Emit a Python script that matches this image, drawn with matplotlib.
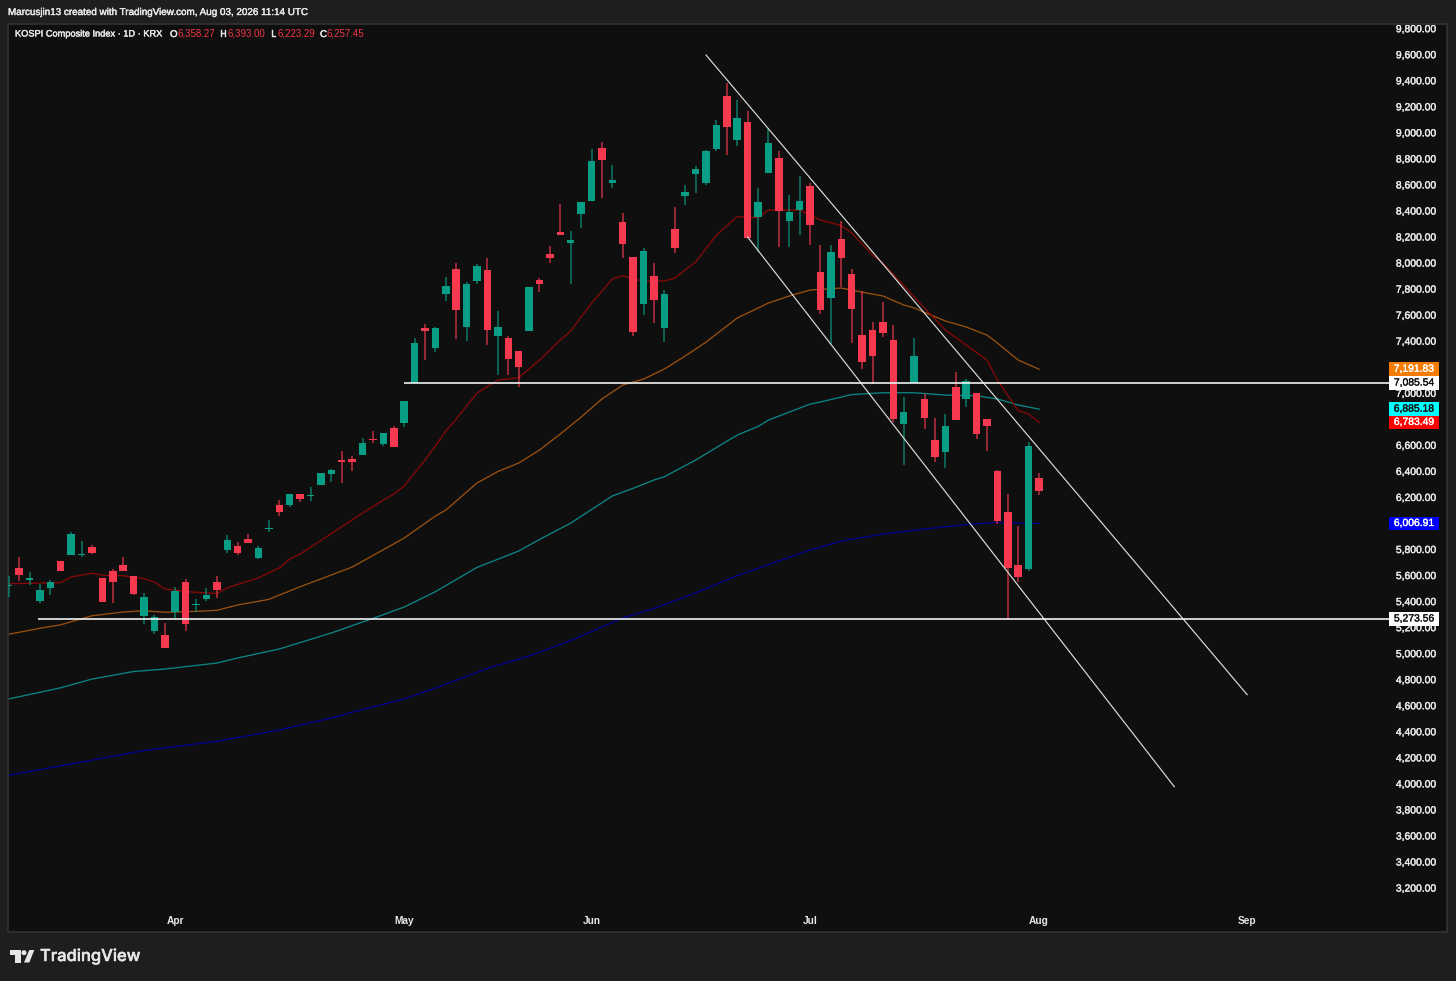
import matplotlib
matplotlib.use("Agg")
import matplotlib.pyplot as plt
import matplotlib.patheffects as pe
from matplotlib.patches import Polygon, Circle, Rectangle
from matplotlib.transforms import ScaledTranslation

# ---------- data ----------
opens = [5527,5665,5570,5412,5514,5719,5765,5765,5824,5588,5644,5688,5603,5298,5183,5152,5329,5557,5383,5424,
         5555,5805,5834,5885,5742,5962,6149,6149,6231,6218,6302,6389,6497,6502,6535,6653,6619,6740,6781,7088,
         7506,7357,7771,7959,7513,7871,7953,7444,7431,7329,7487,7877,8074,8245,8161,8383,8483,8888,8622,8324,
         8053,7695,7905,7506,8268,8522,8691,8622,8880,9290,8952,9090,8358,8698,8816,8330,8414,8598,7936,7738,
         8191,7923,7454,7493,7554,7416,6768,7083,6963,6648,6556,7057,6963,7009,6811,6410,6095,5688,5657,6358.27]
highs = [5604,5752,5632,5544,5573,5719,5939,5872,5841,5588,5655,5747,5603,5470,5304,5240,5516,5583,5424,5513,
         5603,5920,5864,5924,5831,6031,6187,6235,6231,6285,6394,6427,6566,6525,6661,6717,6704,6755,6945,7431,
         7539,7518,7902,8005,7861,7999,8048,7638,7446,7329,7823,7890,8138,8460,8255,8476,8883,8936,8760,8389,
         8053,8122,8005,7802,8439,8608,8754,8875,9105,9387,9259,9174,8585,9039,8867,8527,8675,8619,8143,8143,
         8327,7959,7794,7552,7708,7529,6980,7429,7001,6817,6845,7170,7116,7009,6811,6420,6233,5987,6632,6393.00]
lows = [5440,5565,5532,5398,5455,5639,5765,5747,5772,5406,5398,5639,5455,5232,5160,5050,5278,5179,5329,5411,
        5432,5778,5767,5857,5736,5944,6066,6131,6169,6182,6302,6328,6315,6410,6533,6627,6602,6594,6750,7088,
        7262,7326,7718,7423,7406,7846,7377,7147,7147,7057,7487,7784,8009,8222,7846,8276,8483,8506,8585,8043,
        7449,7605,7544,7398,8086,8453,8545,8608,8870,8837,8906,8201,8094,8698,8130,8130,8224,8148,7619,7389,
        7821,7395,7191,7076,7439,6788,6454,7083,6735,6477,6433,6799,6901,6656,6566,6000,5271,5557,5639,6223.29]
closes = [5535,5609,5588,5494,5557,5639,5928,5772,5782,5406,5557,5644,5463,5442,5286,5052,5486,5237,5391,5455,
          5496,5880,5778,5859,5816,5972,6095,6231,6195,6225,6394,6420,6481,6479,6623,6648,6699,6596,6945,7393,
          7487,7508,7828,7646,7846,7984,7495,7518,7272,7208,7823,7848,8048,8222,8186,8476,8790,8798,8642,8155,
          7479,8099,7725,7771,8122,8552,8729,8867,9069,9052,9121,8201,8476,8929,8406,8399,8483,8299,7646,8092,
          8048,7656,7247,7293,7472,6807,6863,7293,6817,6515,6755,6799,7101,6694,6755,6026,5665,5596,6602,6257.45]

ma_red_x = [0,5,6,8,9,11,13,14,15,16,17,20,21,24,26,27,28,34,36,37,38,40,41,42,43,45,47,49,51,53,54,56,58,59,60,61,63,64,66,68,70,71,72,73,76,78,80,81,83,84,87,90,92,94,95,97,98,99]
ma_red = [5544,5553,5596,5626,5609,5606,5583,5557,5503,5496,5484,5469,5513,5590,5665,5734,5772,6087,6187,6233,6295,6494,6602,6717,6809,7009,7109,7126,7262,7416,7485,7700,7884,7910,7884,7869,7869,7892,8015,8222,8363,8360,8355,8414,8414,8337,8295,8238,8069,8007,7746,7493,7377,7262,7109,6873,6848,6783.49]

ma_orange_x = [0,3,5,8,11,13,15,18,20,22,25,26,28,33,38,41,42,45,47,49,51,53,55,57,59,61,63,65,67,70,71,73,75,77,80,82,84,86,87,90,92,94,95,97,99]
ma_orange = [5156,5202,5229,5298,5327,5337,5325,5332,5340,5381,5424,5457,5521,5672,5895,6064,6110,6318,6406,6471,6571,6694,6824,6963,7070,7116,7193,7293,7400,7585,7623,7700,7754,7800,7815,7784,7754,7685,7662,7562,7516,7454,7393,7262,7191.83]

ma_teal_x = [0,5,8,12,15,20,22,26,31,35,38,41,45,49,51,54,58,60,62,63,66,70,72,73,77,78,81,84,87,90,93,95,97,99]
ma_teal = [4659,4745,4812,4870,4889,4935,4974,5043,5166,5278,5365,5483,5670,5795,5884,6010,6218,6277,6341,6366,6494,6686,6752,6801,6924,6940,6997,7011,7011,6993,6988,6963,6917,6885.18]

ma_blue_x = [0,6,13,20,26,31,34,38,41,46,50,54,59,62,66,70,77,80,84,88,92,95,99]
ma_blue = [4073,4160,4263,4334,4421,4513,4578,4659,4743,4894,4989,5108,5281,5354,5473,5607,5803,5872,5926,5964,5999,6016,6006.91]

channel_upper_x = [67,119]
channel_upper = [9605,4692]
channel_lower_x = [71,112]
channel_lower = [8207,3985]

support_level = 5273.56
resistance_level = 7085.54

month_ticks = [16,38,56,77,99,119]
month_labels = ["Apr","May","Jun","Jul","Aug","Sep"]
price_ticks = list(range(3200,9801,200))

price_tags = [(7191.83,"#f57c00","#ffffff"),(7085.54,"#ffffff","#131313"),(6885.18,"#00ffff","#131313"),
              (6783.49,"#ff0000","#ffffff"),(6006.91,"#0000ff","#ffffff"),(5273.56,"#ffffff","#131313")]

# ---------- style ----------
OUTER="#1e1e1e"; INNER="#0f0f0f"; UP="#089e85"; DOWN="#f7394f"; TXT="#e8e8e8"
FONT="Liberation Sans"
W,H=1456,981
plt.rcParams['font.family']=[FONT,'DejaVu Sans']
fig=plt.figure(figsize=(W/100,H/100),dpi=100,facecolor=OUTER)
heavy=[pe.withStroke(linewidth=0.3,foreground=TXT)]

# chart pane: left 8, right 1447, top 24, bottom 932 px
ax=fig.add_axes([8/W,1-932/H,(1447-8)/W,(932-24)/H],facecolor=INNER)
ax.set_xlim(-0.067,138.2)
ax.set_ylim(2869.5,9843)
ax.set_axisbelow(True)
for s in ax.spines.values():
    s.set_color("#303030"); s.set_linewidth(1.3)

ax.yaxis.tick_right()
ax.set_yticks(price_ticks)
ax.set_yticklabels([f"{p:,.2f}" for p in price_ticks],fontsize=7.45,color=TXT)
ax.tick_params(axis='y',length=0,pad=-36.8)
ax.set_xticks(month_ticks)
ax.set_xticklabels(month_labels,fontsize=7.3,color=TXT,fontweight='bold')
ax.tick_params(axis='x',length=0,pad=-11.8)
shift=ScaledTranslation(0,1.4/100,fig.dpi_scale_trans)
for lab in ax.get_yticklabels():
    lab.set_transform(lab.get_transform()+shift)
    lab.set_path_effects(heavy)

# moving averages
ax.plot(ma_blue_x,ma_blue,color="#00008f",lw=0.95,zorder=2)
ax.plot(ma_teal_x,ma_teal,color="#0c8484",lw=0.95,zorder=2)
ax.plot(ma_orange_x,ma_orange,color="#99500f",lw=0.95,zorder=2)
ax.plot(ma_red_x,ma_red,color="#860808",lw=0.95,zorder=2)

# candles
for i,(o,h,l,c) in enumerate(zip(opens,highs,lows,closes)):
    col=UP if c>=o else DOWN
    ax.vlines(i,l,h,color=col,lw=1.1,alpha=0.75,zorder=3)
    ax.bar(i,abs(c-o),bottom=min(o,c),width=0.72,color=col,linewidth=0,zorder=4)

# drawings
ax.plot(channel_upper_x,channel_upper,color="#dcdcdc",lw=0.85,zorder=5)
ax.plot(channel_lower_x,channel_lower,color="#dcdcdc",lw=0.85,zorder=5)
ax.hlines(resistance_level,38,132.7,color="#f2f2f2",lw=1.2,zorder=5)
ax.hlines(support_level,2.8,132.7,color="#f2f2f2",lw=1.2,zorder=5)

# price tags
for val,bg,fg in price_tags:
    ax.add_patch(Rectangle((132.66,val-52),4.76,104,facecolor=bg,edgecolor='none',zorder=6))
    ax.text(135.04,val+4,f"{val:,.2f}",color=fg,fontsize=7.45,ha='center',va='center',zorder=7,
            path_effects=[pe.withStroke(linewidth=0.25,foreground=fg)])

# overlay for header and footer
ov=fig.add_axes([0,0,1,1],facecolor='none')
ov.set_xlim(0,W); ov.set_ylim(H,0); ov.axis('off')
ov.text(8,12,"Marcusjin13 created with TradingView.com, Aug 03, 2026 11:14 UTC",color=TXT,fontsize=7.1,va='center',path_effects=heavy)
ov.text(15,34,"KOSPI Composite Index · 1D · KRX",color=TXT,fontsize=6.65,va='center',path_effects=heavy)
for x,lab,xv,val in [(170,"O",177,"6,358.27"),(220,"H",227,"6,393.00"),(271,"L",277,"6,223.29"),(320,"C",326.5,"6,257.45")]:
    ov.text(x,34,lab,color=TXT,fontsize=7.0,va='center',path_effects=heavy)
    ov.text(xv,34,val,color="#f23645",fontsize=7.0,va='center')
ov.add_patch(Polygon([(10,950),(20.7,950),(20.7,962.5),(15,962.5),(15,955),(10,955)],closed=True,fc="#e6e6e6",ec='none'))
ov.add_patch(Circle((24,952.7),2.5,fc="#e6e6e6",ec='none'))
ov.add_patch(Polygon([(29.3,950),(34.3,950),(29.3,962.5),(24,962.5)],closed=True,fc="#e6e6e6",ec='none'))
ov.text(40,956.5,"TradingView",color="#e6e6e6",fontsize=11.9,va='center',fontfamily="Inter",fontweight='medium',
        path_effects=[pe.withStroke(linewidth=0.35,foreground="#e6e6e6")])

fig.savefig("out.png",dpi=100,facecolor=OUTER)
